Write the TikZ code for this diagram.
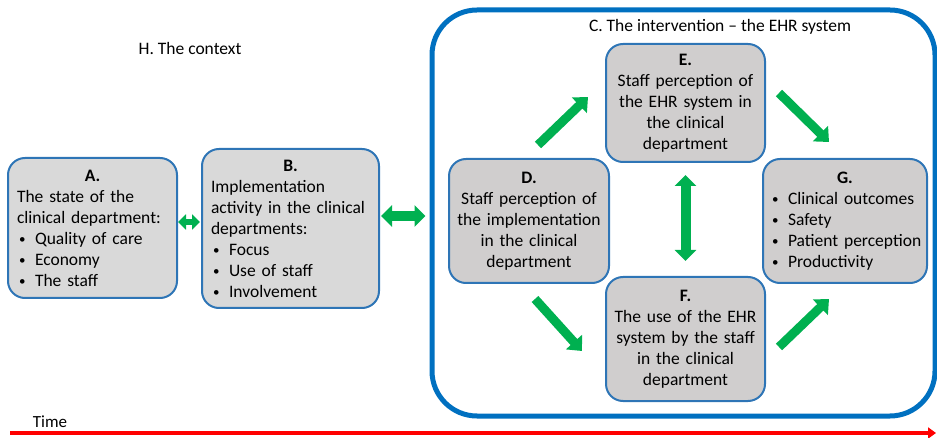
\documentclass[tikz,border=0pt]{standalone}
\usepackage{fontspec}
\setmainfont{Carlito}
\usetikzlibrary{arrows.meta}
\definecolor{cblue}{HTML}{0070C0}
\definecolor{bblue}{HTML}{2E75B6}
\definecolor{lgray}{HTML}{D9D9D9}
\definecolor{dgray}{HTML}{D0CECE}
\definecolor{ggreen}{HTML}{00B050}
\definecolor{tred}{HTML}{FF0000}
\newcommand{\bul}[1]{\hspace*{2pt}\makebox[16pt][l]{\fontsize{13}{13}\selectfont\raisebox{0.5pt}{\textbullet}}\mbox{#1}}
\newcommand{\hd}[1]{\makebox[\hsize]{\textbf{#1}}}
\begin{document}
\begin{tikzpicture}[x=1pt,y=-1pt,
  txtfont/.style={font=\fontsize{17.5}{21}\selectfont},
  box/.style={draw=bblue, line width=2pt, rounded corners=17pt, inner sep=0pt, txtfont},
  lbox/.style={box, fill=lgray, align=left},
  dbox/.style={box, fill=dgray, align=center},
  garrow/.style={draw=ggreen, line width=9pt, -{Triangle[width=21pt,length=12pt]}},
  gdouble/.style={draw=ggreen, line width=10pt, {Triangle[width=21pt,length=11pt]}-{Triangle[width=21pt,length=11pt]}},
  gsmall/.style={draw=ggreen, line width=6pt, {Triangle[width=15pt,length=8pt]}-{Triangle[width=15pt,length=8pt]}},
  title/.style={txtfont, inner sep=0pt}
]
\useasboundingbox (0,0) rectangle (937,438);

% container
\node[draw=cblue, line width=5pt, rounded corners=45pt, minimum width=503pt, minimum height=406pt] (C) at (683.5,213) {};
\node[title] (ct) at (720,27) {C. The intervention – the EHR system};
\node[title] (ht) at (190,48) {H. The context};

% boxes
\node[lbox, minimum width=169pt, minimum height=140pt, text width=151pt] (A) at (92.5,228)
 {\hd{A.}\\The state of the\\clinical department:\\\bul{Quality of care}\\\bul{Economy}\\\bul{The staff}};
\node[lbox, minimum width=177pt, minimum height=159pt, text width=159pt] (B) at (290.5,228.5)
 {\hd{B.}\\Implementation\\activity in the clinical\\departments:\\\bul{Focus}\\\bul{Use of staff}\\\bul{Involvement}};
\node[dbox, minimum width=160pt, minimum height=124pt, text width=150pt] (D) at (529,221)
 {\textbf{D.}\\Staff perception of\\the implementation\\in the clinical\\department};
\node[dbox, minimum width=159pt, minimum height=118pt, text width=150pt] (E) at (685.5,103)
 {\textbf{E.}\\Staff perception of\\the EHR system in\\the clinical\\department};
\node[dbox, minimum width=159pt, minimum height=124pt, text width=150pt] (F) at (685.5,339)
 {\textbf{F.}\\The use of the EHR\\system by the staff\\in the clinical\\department};
\node[box, fill=dgray, align=left, minimum width=164pt, minimum height=124pt, text width=160pt] (G) at (845,221)
 {\hd{G.}\\\hspace*{5pt}\bul{Clinical outcomes}\\\hspace*{5pt}\bul{Safety}\\\hspace*{5pt}\bul{Patient perception}\\\hspace*{5pt}\bul{Productivity}};

% green arrows
\draw[gsmall] ([shift={(0,-6)}]A.east) -- ([shift={(-1,-6.5)}]B.west);
\draw[gdouble] ([shift={(1,-12.5)}]B.east) -- ([shift={(-4,3)}]C.west);
\draw[garrow] ([shift={(9,-13)}]D.north) -- ([shift={(-17,-6)}]E.west);
\draw[garrow] ([shift={(13,-10)}]E.east) -- ([shift={(-16,-16)}]G.north);
\draw[garrow] ([shift={(6,15)}]D.south) -- ([shift={(-23,12)}]F.west);
\draw[garrow] ([shift={(13,8)}]F.east) -- ([shift={(-16,15)}]G.south);
\draw[gdouble] ([shift={(0,12)}]E.south) -- ([shift={(0,-15)}]F.north);

% time
\coordinate (t0) at (10,433);
\coordinate (t1) at (936,433);
\draw[draw=tred, line width=4pt, -{Triangle[width=11pt,length=8pt]}] (t0) -- (t1);
\node[font=\fontsize{17}{18}\selectfont, inner sep=0pt] (time) at (50,422) {Time};
\end{tikzpicture}
\end{document}
